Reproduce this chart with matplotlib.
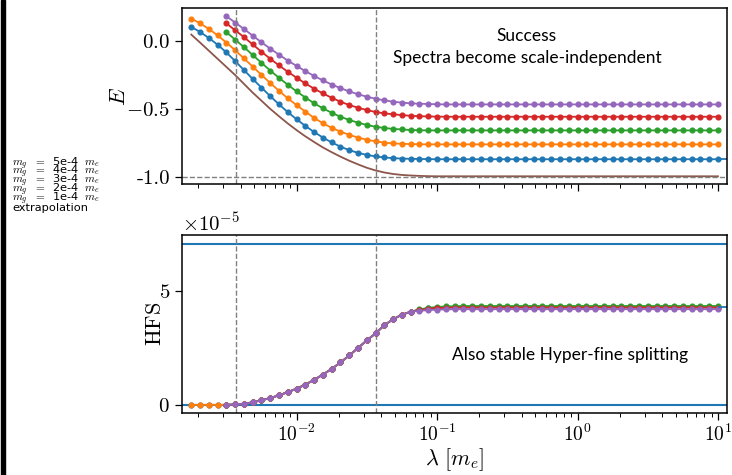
import numpy as np
import matplotlib
matplotlib.use("Agg")
import matplotlib.pyplot as plt
from matplotlib.patches import Rectangle
from matplotlib.ticker import ScalarFormatter

plt.rcParams["font.family"] = "serif"
plt.rcParams["font.serif"] = ["cmr10", "DejaVu Serif"]
plt.rcParams["mathtext.fontset"] = "cm"
plt.rcParams["axes.formatter.use_mathtext"] = True

# lambda grid [m_e], 16 points per decade
lam = np.logspace(-2.75, 1.0, 61)

labels = [r"$m_g\ \ =\ \ $5e-4$\ \ m_e$", r"$m_g\ \ =\ \ $4e-4$\ \ m_e$",
          r"$m_g\ \ =\ \ $3e-4$\ \ m_e$", r"$m_g\ \ =\ \ $2e-4$\ \ m_e$",
          r"$m_g\ \ =\ \ $1e-4$\ \ m_e$", "extrapolation"]

# ground-state energy E
e_blue = [0.106, 0.068, 0.024, -0.026, -0.083, -0.147, -0.213, -0.279, -0.343, -0.406,
          -0.467, -0.524, -0.577, -0.626, -0.671, -0.712, -0.748, -0.779, -0.805, -0.825,
          -0.840, -0.851, -0.859, -0.864, -0.867, -0.869, -0.870, -0.871, -0.872, -0.872,
          -0.872, -0.872, -0.872, -0.872, -0.872, -0.872, -0.872, -0.872, -0.872, -0.872,
          -0.872, -0.872, -0.872, -0.872, -0.872, -0.872, -0.872, -0.872, -0.872, -0.872,
          -0.872, -0.872, -0.872, -0.872, -0.872, -0.872, -0.872, -0.872, -0.872, -0.872,
          -0.872]
e_orange = [0.167, 0.132, 0.091, 0.043, -0.010, -0.067, -0.127, -0.188, -0.249, -0.309,
            -0.367, -0.422, -0.473, -0.520, -0.567, -0.606, -0.640, -0.668, -0.692, -0.712,
            -0.728, -0.740, -0.749, -0.755, -0.758, -0.760, -0.761, -0.762, -0.762, -0.762,
            -0.762, -0.762, -0.762, -0.762, -0.762, -0.762, -0.762, -0.762, -0.762, -0.762,
            -0.762, -0.762, -0.762, -0.762, -0.762, -0.762, -0.762, -0.762, -0.762, -0.762,
            -0.762, -0.762, -0.762, -0.762, -0.762, -0.762, -0.762, -0.762, -0.762, -0.762,
            -0.762]
e_green = [0.066, 0.012, -0.044, -0.102, -0.160, -0.217,
           -0.271, -0.322, -0.371, -0.416, -0.459, -0.496, -0.529, -0.558, -0.582, -0.602,
           -0.619, -0.632, -0.641, -0.648, -0.652, -0.656, -0.658, -0.659, -0.659, -0.659,
           -0.659, -0.659, -0.659, -0.659, -0.659, -0.659, -0.659, -0.659, -0.659, -0.659,
           -0.659, -0.659, -0.659, -0.659, -0.659, -0.659, -0.659, -0.659, -0.659, -0.659,
           -0.659, -0.659, -0.659, -0.659, -0.659, -0.659, -0.659, -0.659, -0.659, -0.659,
           -0.659]
e_red = [0.131, 0.081, 0.030, -0.024, -0.078, -0.130,
         -0.179, -0.226, -0.270, -0.312, -0.351, -0.386, -0.418, -0.447, -0.472, -0.491,
         -0.509, -0.523, -0.533, -0.540, -0.546, -0.551, -0.554, -0.556, -0.557, -0.558,
         -0.558, -0.558, -0.558, -0.558, -0.558, -0.558, -0.558, -0.558, -0.558, -0.558,
         -0.558, -0.558, -0.558, -0.558, -0.558, -0.558, -0.558, -0.558, -0.558, -0.558,
         -0.558, -0.558, -0.558, -0.558, -0.558, -0.558, -0.558, -0.558, -0.558, -0.558,
         -0.558]
e_purple = [0.184, 0.138, 0.090, 0.041, -0.008, -0.055,
            -0.100, -0.143, -0.183, -0.221, -0.257, -0.290, -0.320, -0.347, -0.371, -0.392,
            -0.410, -0.425, -0.437, -0.447, -0.454, -0.459, -0.462, -0.464, -0.466, -0.467,
            -0.467, -0.467, -0.467, -0.467, -0.467, -0.467, -0.467, -0.467, -0.467, -0.467,
            -0.467, -0.467, -0.467, -0.467, -0.467, -0.467, -0.467, -0.467, -0.467, -0.467,
            -0.467, -0.467, -0.467, -0.467, -0.467, -0.467, -0.467, -0.467, -0.467, -0.467,
            -0.467]
e_extrap = [0.049, -0.010, -0.070, -0.130, -0.190, -0.250, -0.315, -0.380, -0.440, -0.500,
            -0.555, -0.608, -0.657, -0.703, -0.745, -0.785, -0.820, -0.853, -0.883, -0.910,
            -0.935, -0.955, -0.970, -0.981, -0.988, -0.992, -0.995, -0.997, -0.998, -0.998,
            -0.998, -0.998, -0.998, -0.998, -0.998, -0.998, -0.998, -0.998, -0.998, -0.998,
            -0.998, -0.998, -0.998, -0.998, -0.998, -0.998, -0.998, -0.998, -0.998, -0.998,
            -0.998, -0.998, -0.998, -0.998, -0.998, -0.998, -0.998, -0.998, -0.998, -0.998,
            -0.998]

# hyper-fine splitting, units of 1e-5
hfs_blue = [0, 0, 0, 0, 0.0, 0.015, 0.05, 0.11, 0.20, 0.30,
            0.42, 0.56, 0.71, 0.89, 1.10, 1.33, 1.58, 1.86, 2.17, 2.50,
            2.83, 3.14, 3.50, 3.76, 3.96, 4.09, 4.18, 4.24, 4.27, 4.29,
            4.30, 4.31, 4.31, 4.31, 4.31, 4.31, 4.31, 4.31, 4.31, 4.31,
            4.31, 4.31, 4.31, 4.31, 4.31, 4.31, 4.31, 4.31, 4.31, 4.31,
            4.31, 4.31, 4.31, 4.31, 4.31, 4.31, 4.31, 4.31, 4.31, 4.31,
            4.31]
hfs_orange = [0, 0, 0, 0, 0.0, 0.015, 0.05, 0.11, 0.20, 0.30,
              0.42, 0.56, 0.71, 0.89, 1.10, 1.33, 1.58, 1.86, 2.17, 2.50,
              2.83, 3.14, 3.50, 3.76, 3.96, 4.09, 4.17, 4.23, 4.26, 4.28,
              4.29, 4.30, 4.30, 4.30, 4.30, 4.30, 4.30, 4.30, 4.30, 4.30,
              4.30, 4.30, 4.30, 4.30, 4.30, 4.30, 4.30, 4.30, 4.30, 4.30,
              4.30, 4.30, 4.30, 4.30, 4.30, 4.30, 4.30, 4.30, 4.30, 4.30,
              4.30]
hfs_green = [0.0, 0.015, 0.05, 0.11, 0.20, 0.30,
             0.42, 0.56, 0.71, 0.89, 1.10, 1.33, 1.58, 1.86, 2.17, 2.50,
             2.83, 3.14, 3.50, 3.76, 3.96, 4.09, 4.19, 4.26, 4.30, 4.32,
             4.33, 4.34, 4.34, 4.34, 4.34, 4.34, 4.34, 4.34, 4.34, 4.34,
             4.34, 4.34, 4.34, 4.34, 4.34, 4.34, 4.34, 4.34, 4.34, 4.34,
             4.34, 4.34, 4.34, 4.34, 4.34, 4.34, 4.34, 4.34, 4.34, 4.34,
             4.34]
hfs_red = [0.0, 0.015, 0.05, 0.11, 0.20, 0.30,
           0.42, 0.56, 0.71, 0.89, 1.10, 1.33, 1.58, 1.86, 2.17, 2.50,
           2.83, 3.14, 3.50, 3.76, 3.96, 4.09, 4.16, 4.22, 4.25, 4.26,
           4.27, 4.27, 4.27, 4.27, 4.27, 4.27, 4.27, 4.27, 4.27, 4.27,
           4.27, 4.27, 4.27, 4.27, 4.27, 4.27, 4.27, 4.27, 4.27, 4.27,
           4.27, 4.27, 4.27, 4.27, 4.27, 4.27, 4.27, 4.27, 4.27, 4.27,
           4.27]
hfs_purple = [0.0, 0.015, 0.05, 0.11, 0.20, 0.30,
              0.42, 0.56, 0.71, 0.89, 1.10, 1.33, 1.58, 1.86, 2.17, 2.50,
              2.83, 3.14, 3.50, 3.76, 3.96, 4.09, 4.13, 4.16, 4.18, 4.19,
              4.20, 4.20, 4.20, 4.20, 4.20, 4.20, 4.20, 4.20, 4.20, 4.20,
              4.20, 4.20, 4.20, 4.20, 4.20, 4.20, 4.20, 4.20, 4.20, 4.20,
              4.20, 4.20, 4.20, 4.20, 4.20, 4.20, 4.20, 4.20, 4.20, 4.20,
              4.20]

hfs_ref = [0.0, 7.08]       # reference lines, units of 1e-5
e_ref = -1.0
lam_marks = [0.00368, 0.0368]
HFS_UNIT = 1e-5

X_MIN, X_MAX = 0.00152, 11.6
colors = ["C0", "C1", "C2", "C3", "C4", "C5"]

fig = plt.figure(figsize=(7.32, 4.75), dpi=100)
ax1 = fig.add_axes([0.2482, 0.6126, 0.745, 0.3705])
ax2 = fig.add_axes([0.2482, 0.1295, 0.745, 0.3758])

mk = dict(marker="o", ms=3.4, lw=1.3)

# --- energy panel
e_series = [e_blue, e_orange, e_green, e_red, e_purple]
for vals, c in zip(e_series, colors):
    ax1.plot(lam[len(lam) - len(vals):], vals, color=c, **mk)
ax1.plot(lam, e_extrap, color=colors[5], lw=1.3)
ax1.hlines(e_blue[-1], lam[-1], X_MAX, color=colors[0], lw=1.3)
ax1.axhline(e_ref, color="grey", ls="--", lw=1.0)
for xm in lam_marks:
    ax1.axvline(xm, color="grey", ls="--", lw=1.0)

ax1.set_ylim(-1.055, 0.245)
ax1.set_yticks([-1.0, -0.5, 0.0], labels=["-1.0", r"$-0.5$", r"$0.0$"])
ax1.set_ylabel(r"$E$", fontsize=16, labelpad=-2)
ax1.tick_params(axis="x", which="both", labelbottom=False)

ax1.text(0.633, 0.81, "Success", transform=ax1.transAxes, ha="center",
         fontsize=12.5, family="Lato")
ax1.text(0.633, 0.69, "Spectra become scale-independent", transform=ax1.transAxes,
         ha="center", fontsize=12.5, family="Lato")

# --- hyper-fine panel
for y in hfs_ref:
    ax2.axhline(y * HFS_UNIT, color=colors[0], lw=1.5)
for xm in lam_marks:
    ax2.axvline(xm, color="grey", ls="--", lw=1.0)
hfs_series = [hfs_blue, hfs_orange, hfs_green, hfs_red, hfs_purple]
for vals, c in zip(hfs_series, colors):
    ax2.plot(lam[len(lam) - len(vals):], np.array(vals) * HFS_UNIT, color=c, **mk)
ax2.hlines(hfs_blue[-1] * HFS_UNIT, lam[-1], X_MAX, color=colors[0], lw=1.3)

ax2.set_ylim(-0.38 * HFS_UNIT, 7.46 * HFS_UNIT)
ax2.set_yticks([0, 5 * HFS_UNIT])
fmt = ScalarFormatter(useMathText=True)
fmt.set_powerlimits((0, 0))
ax2.yaxis.set_major_formatter(fmt)
ax2.yaxis.get_offset_text().set_fontsize(15)
ax2.set_ylabel(r"$\mathrm{HFS}$", fontsize=16, labelpad=-5)
ax2.set_xlabel(r"$\lambda\ [m_e]$", fontsize=16, labelpad=1)

ax2.text(0.713, 0.3, "Also stable Hyper-fine splitting", transform=ax2.transAxes,
         ha="center", fontsize=12.5, family="Lato")

for ax in (ax1, ax2):
    ax.set_xscale("log")
    ax.set_xlim(X_MIN, X_MAX)
    ax.tick_params(which="major", direction="out", length=5, width=0.9, labelsize=15)
    ax.tick_params(which="minor", direction="out", length=3, width=0.7)
    ax.tick_params(axis="x", labelsize=14, pad=2)
    for s in ax.spines.values():
        s.set_linewidth(1.1)

# legend entries (handles fall outside the slide crop)
fig.text(0.017, 1 - 155 / 475, "\n".join(labels[:-1]), fontsize=8.2, va="top",
         linespacing=0.27, family=["DejaVu Sans"])
fig.text(0.017, 1 - 208 / 475, labels[-1], fontsize=8.2, va="center",
         family=["DejaVu Sans"])

# slide border on the left
fig.add_artist(Rectangle((0.0015, 0), 0.0055, 1, transform=fig.transFigure,
                         color="black", zorder=10))

fig.savefig("out.png", dpi=100)
